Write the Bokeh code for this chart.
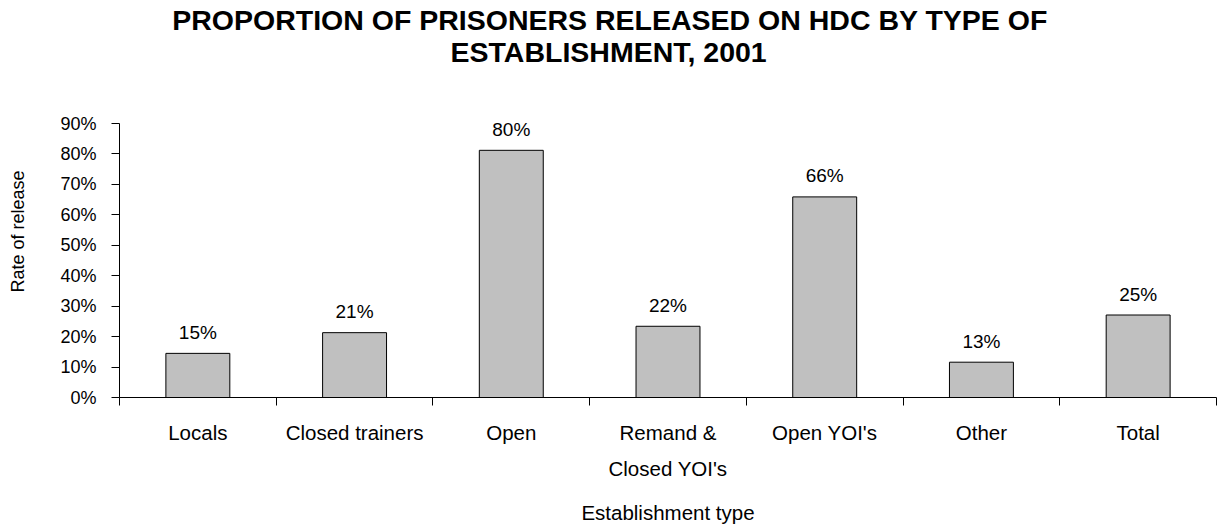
from bokeh.plotting import figure
from bokeh.models import (ColumnDataSource, Range1d, FixedTicker, NumeralTickFormatter, Title)
from bokeh.core.properties import value
from bokeh.embed import file_html
from bokeh.resources import INLINE

# ---- data ----
categories = ["Locals", "Closed trainers", "Open", "Remand &\nClosed YOI's",
              "Open YOI's", "Other", "Total"]
rates = [0.145, 0.213, 0.812, 0.234, 0.659, 0.116, 0.271]
rate_labels = ["15%", "21%", "80%", "22%", "66%", "13%", "25%"]
y_ticks = [0.0, 0.1, 0.2, 0.3, 0.4, 0.5, 0.6, 0.7, 0.8, 0.9]

title_lines = ["PROPORTION OF PRISONERS RELEASED ON HDC BY TYPE OF",
               "ESTABLISHMENT, 2001"]
x_title = "Establishment type"
y_title = "Rate of release"

FONT = "Liberation Sans"

# ---- geometry ----
W, H = 1218, 527
FL, FR, FT, FB = 119, 2, 65, 130
N = len(categories)
FH = H - FT - FB
Y_MAX = FH / 304.4   # 10% = 30.44 px

centers = [i + 0.5 for i in range(N)]
src = ColumnDataSource(dict(x=centers, top=rates, lab=rate_labels))

p = figure(width=W, height=H, output_backend="svg", toolbar_location=None,
           x_range=Range1d(0, N), y_range=Range1d(0, Y_MAX),
           min_border_left=FL, min_border_right=FR, min_border_top=FT,
           min_border_bottom=FB, tools="")
p.outline_line_color = None
p.xgrid.visible = False
p.ygrid.visible = False
p.background_fill_color = "white"
p.border_fill_color = "white"

p.vbar(x="x", top="top", width=0.408, source=src, fill_color="#C0C0C0",
       line_color="#000000", line_width=1)

p.text(x="x", y="top", text="lab", source=src, text_font=value(FONT),
       text_font_size="19px", text_align="center", text_baseline="middle",
       y_offset=-21, text_color="#000000")

# y axis
ya = p.yaxis[0]
ya.ticker = FixedTicker(ticks=y_ticks)
ya.formatter = NumeralTickFormatter(format="0%")
ya.bounds = (0, 0.9)
ya.major_tick_out = 8
ya.major_tick_in = 0
ya.minor_tick_out = 0
ya.minor_tick_in = 0
ya.major_label_standoff = 15
ya.major_label_text_font = FONT
ya.major_label_text_font_size = "18px"
ya.major_label_text_color = "#000000"
ya.axis_line_color = "#000000"
ya.major_tick_line_color = "#000000"
ya.axis_label = y_title
ya.axis_label_text_font = FONT
ya.axis_label_text_font_size = "18px"
ya.axis_label_text_font_style = "normal"
ya.axis_label_text_color = "#000000"
ya.axis_label_standoff = 29

# x axis
xa = p.xaxis[0]
xa.ticker = FixedTicker(ticks=centers, minor_ticks=list(range(N + 1)))
xa.major_label_overrides = {c: lab for c, lab in zip(centers, categories)}
xa.major_tick_out = 0
xa.major_tick_in = 0
xa.minor_tick_out = 8
xa.minor_tick_in = 0
xa.minor_tick_line_color = "#000000"
xa.major_label_standoff = 15
xa.major_label_text_font = FONT
xa.major_label_text_font_size = "20.5px"
xa.major_label_text_line_height = 1.58
xa.major_label_text_color = "#000000"
xa.axis_line_color = "#000000"
xa.axis_label = x_title
xa.axis_label_text_font = FONT
xa.axis_label_text_font_size = "20.5px"
xa.axis_label_text_font_style = "normal"
xa.axis_label_text_color = "#000000"
xa.axis_label_standoff = 18

# titles: p.title is the outer line, the added Title sits next to the plot
p.title.text = title_lines[0]
p.title.text_font = FONT
p.title.text_font_size = "28.5px"
p.title.text_font_style = "bold"
p.title.text_color = "#000000"
p.title.align = "left"
p.title.offset = 52.7
p.title.standoff = 0
p.add_layout(Title(text=title_lines[1], text_font=FONT, text_font_size="28.5px",
                   text_font_style="bold", text_color="#000000", align="left",
                   offset=331, standoff=-4), "above")

open("out.html", "w").write(file_html(p, INLINE))
